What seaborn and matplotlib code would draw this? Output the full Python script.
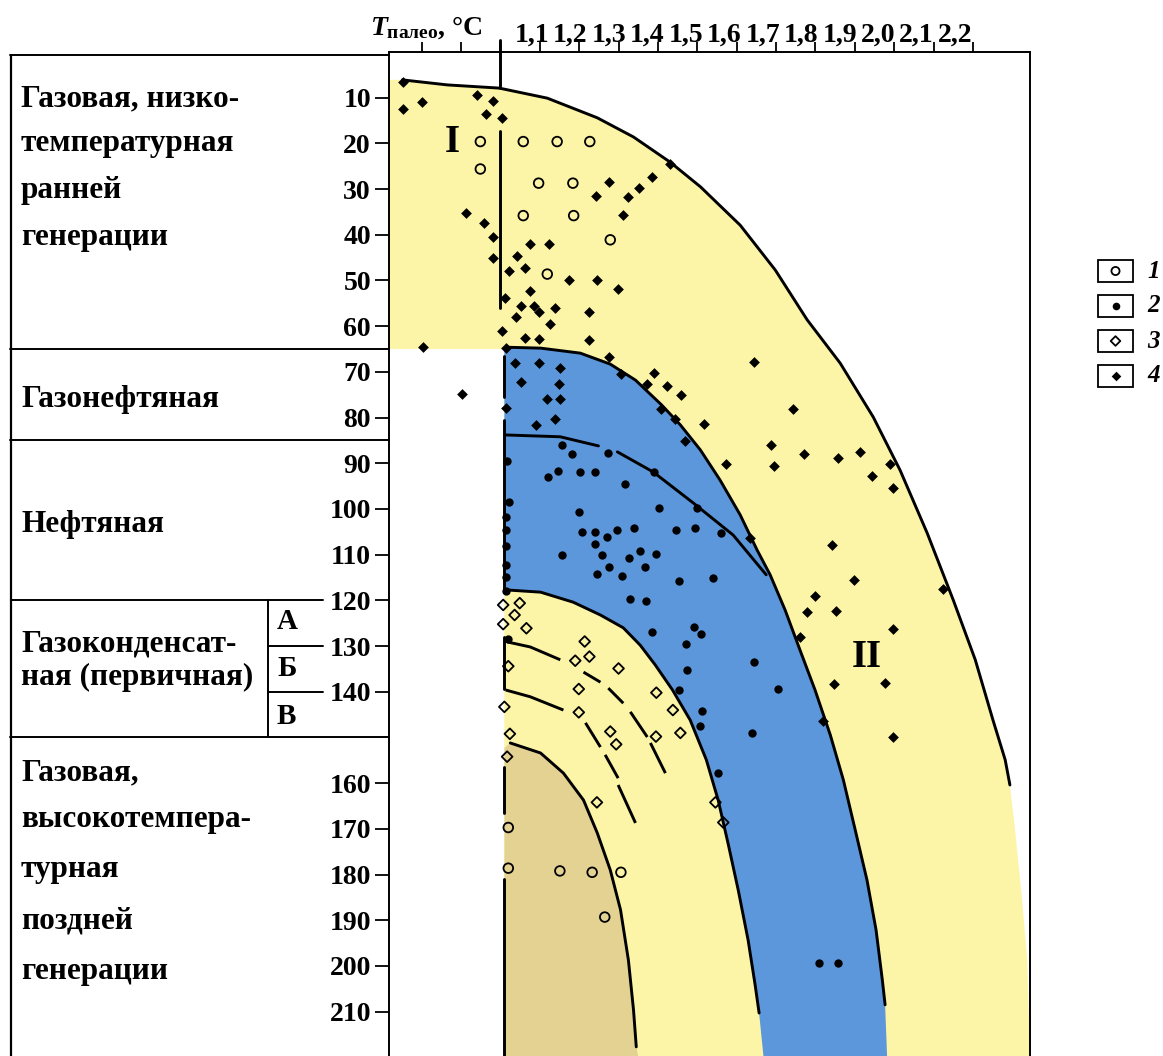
import matplotlib
matplotlib.use("Agg")
import matplotlib.pyplot as plt
import matplotlib.transforms as mtransforms
import seaborn as sns
from matplotlib.patches import Polygon, Rectangle

sns.set_theme(style="ticks")
plt.rcParams["font.family"] = ["Liberation Serif", "DejaVu Serif"]
plt.rcParams["font.weight"] = "bold"
plt.rcParams["text.color"] = "black"
plt.rcParams["xtick.color"] = "black"
plt.rcParams["ytick.color"] = "black"
plt.rcParams["mathtext.fontset"] = "custom"
plt.rcParams["mathtext.rm"] = "Liberation Serif:bold"
plt.rcParams["mathtext.it"] = "Liberation Serif:italic:bold"
plt.rcParams["mathtext.bf"] = "Liberation Serif:bold"

YELLOW = "#FCF4A6"
BLUE = "#5B97DA"
TAN = "#E4D293"

# ---- axis ranges (reflectance vs. palaeotemperature, °C) ----
X_MIN, X_MAX = 0.717, 2.345
T_TOP, T_BOTTOM = 0.0, 219.7
MINOR_TOP_TICKS = [0.8, 0.9, 1.0]
TOP_TICKS = [1.1, 1.2, 1.3, 1.4, 1.5, 1.6, 1.7, 1.8, 1.9, 2.0, 2.1, 2.2]
TOP_LABELS = ["1,1", "1,2", "1,3", "1,4", "1,5", "1,6", "1,7", "1,8",
              "1,9", "2,0", "2,1", "2,2"]
T_TICKS = [10, 20, 30, 40, 50, 60, 70, 80, 90, 100, 110, 120, 130, 140,
           160, 170, 180, 190, 200, 210]

# ---- zone boundaries ----
outer_x = [0.751, 0.865, 0.997, 1.119, 1.246, 1.338, 1.431, 1.508, 1.609, 1.698,
           1.779, 1.863, 1.947, 2.015, 2.084, 2.150, 2.206, 2.251, 2.282, 2.294]
outer_t = [6.1, 7.2, 7.9, 10.1, 14.4, 18.6, 24.1, 29.5, 37.9, 47.7,
           58.6, 68.1, 79.9, 91.5, 105.3, 119.9, 133.0, 146.2, 154.9, 160.4]
outer_tail_x = [2.307, 2.325, 2.338, 2.345]
outer_tail_t = [170.2, 185.6, 198.7, 219.7]

blue_top_x = [1.013, 1.102, 1.203, 1.279, 1.343, 1.409, 1.457, 1.508, 1.558, 1.609,
              1.652, 1.685, 1.723, 1.761, 1.799, 1.838, 1.871, 1.901, 1.931, 1.954,
              1.970, 1.977]
blue_top_t = [64.6, 64.8, 65.9, 68.3, 71.8, 77.2, 81.6, 87.1, 93.7, 101.3,
              109.0, 114.4, 122.1, 130.9, 139.6, 149.5, 159.3, 170.2, 181.2, 192.1,
              203.1, 208.5]
blue_top_tail = (1.982, 219.7)

blue_low_x = [1.013, 1.102, 1.185, 1.254, 1.312, 1.355, 1.393, 1.437, 1.482, 1.523,
              1.553, 1.579, 1.604, 1.629, 1.647, 1.657]
blue_low_t = [117.7, 118.2, 120.4, 123.2, 126.0, 129.8, 134.1, 139.6, 146.2, 154.9,
              163.7, 173.5, 183.4, 194.3, 204.2, 210.3]
blue_low_tail = (1.668, 219.7)

mid_x = [1.013, 1.152, 1.249, 1.297, 1.388, 1.490, 1.591, 1.675]
mid_t = [83.8, 84.2, 86.2, 87.5, 91.9, 98.7, 105.7, 114.4]

tan_x = [1.025, 1.102, 1.160, 1.211, 1.246, 1.279, 1.305, 1.325, 1.338, 1.345]
tan_t = [151.2, 153.4, 157.8, 163.7, 170.9, 179.0, 187.7, 198.7, 209.6, 217.7]
tan_tail = (1.350, 219.7)

# dashed sub-zone limits A/Б and Б/В (each entry one stroke)
dash_ab = [[(1.018, 129.1), (1.076, 130.2), (1.152, 133.0)],
           [(1.211, 135.7), (1.254, 137.9)],
           [(1.274, 139.2), (1.312, 142.5)],
           [(1.330, 144.4), (1.373, 149.9)],
           [(1.381, 151.2), (1.419, 157.8)]]
dash_bv = [[(1.013, 139.6), (1.076, 141.1), (1.160, 144.0)],
           [(1.216, 146.8), (1.254, 152.1)],
           [(1.266, 153.8), (1.299, 158.9)],
           [(1.299, 160.4), (1.343, 168.7)]]

# vertical limit at R = 1.0
vert_upper = [(-2.6, 7.9), (17.3, 56.0)]
vert_lower = [(66.5, 75.5), (80.5, 118.0), (128.0, 139.5), (156.5, 166.5), (181.0, 219.7)]

# ---- samples ----
d4_x = [0.753, 0.801, 0.753, 0.941, 0.981, 0.964, 1.003, 1.431, 1.385, 1.275,
        1.351, 1.244, 1.324, 1.311, 0.913, 0.958, 0.980, 0.980, 1.074, 1.124,
        1.042, 1.062, 1.023, 1.175, 1.245, 1.298, 1.074, 1.011, 1.051, 1.085,
        1.097, 1.138, 1.040, 1.224, 1.127, 1.004, 1.062, 1.097, 1.226, 0.804,
        1.015, 1.275, 0.903, 1.645, 1.038, 1.097, 1.152, 1.389, 1.307, 1.053,
        1.150, 1.371, 1.423, 1.459, 1.119, 1.151, 1.409, 1.013, 1.444, 1.138,
        1.516, 1.091, 1.470, 1.744, 1.688, 1.574, 1.694, 1.770, 1.857, 1.914,
        1.990, 1.943, 1.996, 1.633, 1.843, 1.897, 2.123, 1.799, 1.778, 1.853,
        1.998, 1.761, 1.848, 1.977, 1.819, 1.998]
d4_t = [6.5, 10.9, 12.5, 9.4, 10.7, 13.6, 14.4, 24.4, 27.4, 28.5,
        29.8, 31.5, 31.8, 35.7, 35.2, 37.4, 40.5, 45.1, 42.0, 42.0,
        44.6, 47.3, 47.9, 49.9, 50.0, 51.9, 52.2, 53.9, 55.5, 55.5,
        57.0, 56.1, 57.9, 57.0, 59.5, 61.0, 62.6, 62.8, 63.0, 64.5,
        64.8, 66.7, 74.9, 67.8, 68.1, 68.1, 69.1, 70.3, 70.5, 72.3,
        72.6, 72.6, 73.0, 75.1, 76.0, 76.0, 78.1, 78.0, 80.4, 80.3,
        81.4, 81.6, 85.1, 78.2, 86.0, 90.2, 90.5, 88.0, 88.9, 87.5,
        90.2, 92.8, 95.3, 106.4, 107.9, 115.5, 117.6, 119.0, 122.5, 122.3,
        126.3, 128.1, 138.4, 138.0, 146.4, 149.8]

d2_x = [1.157, 1.182, 1.272, 1.145, 1.121, 1.201, 1.239, 1.317, 1.391, 1.017,
        1.023, 1.199, 1.404, 1.499, 1.013, 1.013, 1.206, 1.239, 1.271, 1.296,
        1.340, 1.446, 1.493, 1.561, 1.239, 1.013, 1.157, 1.258, 1.355, 1.396,
        1.326, 1.013, 1.277, 1.366, 1.013, 1.245, 1.309, 1.453, 1.541, 1.013,
        1.328, 1.370, 1.020, 1.385, 1.491, 1.509, 1.471, 1.475, 1.453, 1.513,
        1.506, 1.552, 1.645, 1.704, 1.640, 1.810, 1.858]
d2_t = [86.1, 88.0, 87.8, 91.6, 92.9, 92.0, 92.0, 94.5, 92.0, 89.4,
        98.4, 100.7, 99.7, 99.7, 101.7, 104.7, 105.1, 105.1, 106.1, 104.6,
        104.2, 104.7, 104.2, 105.3, 107.7, 108.0, 110.1, 110.1, 109.2, 109.9,
        110.7, 112.3, 112.8, 112.8, 114.9, 114.3, 114.6, 115.8, 115.2, 117.9,
        119.7, 120.1, 128.5, 127.0, 125.8, 127.4, 129.6, 135.2, 139.6, 144.1,
        147.5, 157.7, 133.5, 139.4, 149.1, 199.3, 199.4]

d1_x = [0.949, 1.058, 1.144, 1.227, 0.949, 1.097, 1.184, 1.058, 1.186, 1.279,
        1.119, 1.020, 1.020, 1.151, 1.233, 1.306, 1.265]
d1_t = [19.6, 19.6, 19.6, 19.6, 25.6, 28.7, 28.7, 35.8, 35.8, 41.1,
        48.6, 169.7, 178.6, 179.2, 179.5, 179.5, 189.3]

d3_x = [1.007, 1.049, 1.036, 1.007, 1.066, 1.214, 1.190, 1.226, 1.300, 1.020,
        1.199, 1.396, 1.199, 1.438, 1.010, 1.024, 1.279, 1.294, 1.395, 1.457,
        1.017, 1.245, 1.546, 1.566]
d3_t = [121.0, 120.6, 123.2, 125.2, 126.1, 129.0, 133.2, 132.3, 134.9, 134.4,
        139.4, 140.2, 144.5, 144.0, 143.3, 149.2, 148.7, 151.5, 149.8, 149.0,
        154.2, 164.2, 164.2, 168.6]

# ---- zone table on the left ----
ZONE_LINES = [0.6, 65, 85, 150]
SUB_LINES = [130, 140]
zone_texts = [
    ("Газовая, низко-", 10.3), ("температурная", 20.1), ("ранней", 30.3),
    ("генерации", 40.5), ("Газонефтяная", 76.0), ("Нефтяная", 103.5),
    ("Газоконденсат-", 129.6), ("ная (первичная)", 136.8),
    ("Газовая,", 157.8), ("высокотемпера-", 168.0), ("турная", 178.8),
    ("поздней", 190.2), ("генерации", 201.1),
]
sub_texts = [("А", 124.7), ("Б", 135.0), ("В", 145.3)]
legend_labels = ["1", "2", "3", "4"]

W, H = 1163, 1056
fig = plt.figure(figsize=(W / 100, H / 100), dpi=100)
fig.patch.set_facecolor("white")

top_frac = (H - 52) / H
ax = fig.add_axes([389 / W, 0, 641 / W, top_frac])
ax.set_xlim(X_MIN, X_MAX)
ax.set_ylim(T_BOTTOM, T_TOP)
ax.set_facecolor("white")

# zone fills
yellow_poly = ([(X_MIN, 6.1)] + list(zip(outer_x, outer_t)) + list(zip(outer_tail_x, outer_tail_t))
               + [(1.010, T_BOTTOM), (1.010, 65.0), (X_MIN, 65.0)])
ax.add_patch(Polygon(yellow_poly, closed=True, facecolor=YELLOW, edgecolor="none", zorder=1))
blue_poly = (list(zip(blue_top_x, blue_top_t)) + [blue_top_tail, blue_low_tail]
             + list(zip(blue_low_x, blue_low_t))[::-1] + [(1.010, 117.7), (1.010, 64.6)])
ax.add_patch(Polygon(blue_poly, closed=True, facecolor=BLUE, edgecolor="none", zorder=2))
tan_poly = [(1.010, 152.3)] + list(zip(tan_x, tan_t)) + [tan_tail, (1.010, T_BOTTOM)]
ax.add_patch(Polygon(tan_poly, closed=True, facecolor=TAN, edgecolor="none", zorder=3))

# boundary lines
LW = 2.1
for xs, ts in [(outer_x, outer_t), (blue_top_x, blue_top_t), (blue_low_x, blue_low_t),
               (tan_x, tan_t)]:
    sns.lineplot(x=xs, y=ts, sort=False, estimator=None, color="black", lw=LW, ax=ax, zorder=5)
sns.lineplot(x=mid_x[:3], y=mid_t[:3], sort=False, estimator=None, color="black", lw=LW, ax=ax, zorder=5)
sns.lineplot(x=mid_x[3:], y=mid_t[3:], sort=False, estimator=None, color="black", lw=LW, ax=ax, zorder=5)
for stroke in dash_ab + dash_bv:
    xs, ts = zip(*stroke)
    ax.plot(xs, ts, color="black", lw=LW, solid_capstyle="butt", zorder=5)
for t0, t1 in vert_upper:
    ax.plot([1.0, 1.0], [t0, t1], color="black", lw=LW, zorder=5, clip_on=False)
for t0, t1 in vert_lower:
    ax.plot([1.01, 1.01], [t0, t1], color="black", lw=LW, zorder=5)

# samples
sns.scatterplot(x=d4_x, y=d4_t, marker="D", s=30, color="black", linewidth=0, ax=ax, zorder=7)
sns.scatterplot(x=d2_x, y=d2_t, marker="o", s=36, color="black", linewidth=0, ax=ax, zorder=7)
sns.scatterplot(x=d1_x, y=d1_t, marker="o", s=48, color="black", facecolor="none",
                edgecolor="black", linewidth=1.3, ax=ax, zorder=7)
sns.scatterplot(x=d3_x, y=d3_t, marker="D", s=30, color="black", facecolor="none",
                edgecolor="black", linewidth=1.3, ax=ax, zorder=7)

ax.text(0.878, 19.9, "I", fontsize=28, fontweight="bold", ha="center", va="center", zorder=8)
ax.text(1.931, 132.4, "II", fontsize=28, fontweight="bold", ha="center", va="center", zorder=8)

# axes frame and ticks
for side in ["left", "right", "top"]:
    ax.spines[side].set_visible(True)
    ax.spines[side].set_color("black")
    ax.spines[side].set_linewidth(1.4)
ax.spines["bottom"].set_visible(False)
ax.xaxis.tick_top()
ax.set_xticks(MINOR_TOP_TICKS + TOP_TICKS)
ax.set_xticklabels([])
ax.set_yticks(T_TICKS)
ax.set_yticklabels([str(t) for t in T_TICKS])
ax.tick_params(axis="x", which="both", top=True, bottom=False, direction="out", length=7,
               width=1.3, color="black")
ax.tick_params(axis="y", which="both", left=True, right=False, direction="out", length=10,
               width=1.3, color="black", pad=3, labelsize=20, labelcolor="black")
for lab in ax.get_yticklabels():
    lab.set_fontweight("bold")
ax.set_xlabel("")
ax.set_ylabel("")

# top scale labels, typeset as one tightly spaced row above the ticks
for i, (xv, lab) in enumerate(zip(TOP_TICKS, TOP_LABELS)):
    tr = mtransforms.offset_copy(ax.get_xaxis_transform(), fig=fig,
                                 x=-8 - 0.9 * i, y=10, units="dots")
    ax.text(xv, 1.0, lab, transform=tr, fontsize=20, fontweight="bold",
            ha="center", va="baseline", clip_on=False)

fig.text(370 / W, 1 - 28 / H, r"$T_{\mathrm{палео}}$, °C", fontsize=20, fontweight="bold",
         ha="left", va="center")

# zone table
tab = fig.add_axes([10 / W, 0, 379 / W, top_frac])
tab.set_xlim(0, 379)
tab.set_ylim(T_BOTTOM, T_TOP)
tab.axis("off")
for t in ZONE_LINES:
    tab.plot([0, 379], [t, t], color="black", lw=1.4, clip_on=False)
tab.plot([0, 313], [120, 120], color="black", lw=1.4)
for t in SUB_LINES:
    tab.plot([258, 313], [t, t], color="black", lw=1.4)
tab.plot([258, 258], [120, 150], color="black", lw=1.4)
tab.plot([1, 1], [0.6, T_BOTTOM], color="black", lw=1.6, clip_on=False)
for txt, t in zone_texts:
    tab.text(11, t, txt, fontsize=22.5, fontweight="bold", ha="left", va="center")
for txt, t in sub_texts:
    tab.text(267, t, txt, fontsize=21, fontweight="bold", ha="left", va="center")

# legend
leg = fig.add_axes([1085 / W, 1 - 400 / H, 78 / W, 150 / H])
leg.set_xlim(0, 78)
leg.set_ylim(150, 0)
leg.axis("off")
leg_markers = [("o", "none", 1.3, 34), ("o", "black", 0, 30), ("D", "none", 1.3, 24), ("D", "black", 0, 24)]
for i, (lab, (mk, fc, lw, s)) in enumerate(zip(legend_labels, leg_markers)):
    yc = 21 + 35 * i
    leg.add_patch(Rectangle((13, yc - 11), 35, 22, facecolor="white", edgecolor="black", lw=1.3))
    leg.scatter([30.5], [yc], marker=mk, s=s, facecolor=fc, edgecolor="black", linewidth=lw, zorder=3)
    leg.text(62, yc, lab, fontsize=18, fontweight="bold", fontstyle="italic", ha="left", va="center")

fig.savefig("out.png", dpi=100, facecolor="white")
